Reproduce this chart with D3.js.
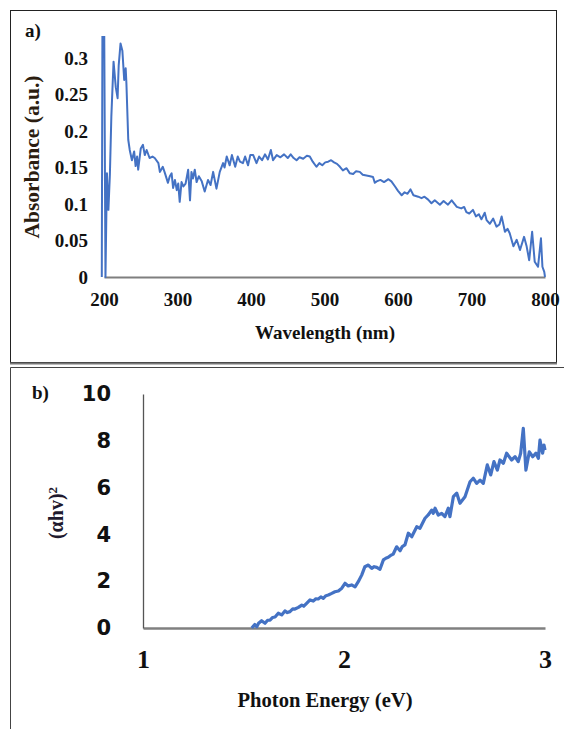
<!DOCTYPE html>
<html>
<head>
<meta charset="utf-8">
<script src="https://cdn.jsdelivr.net/npm/d3@7"></script>
<style>
body {
  margin: 0;
  background-color: white;
}
.serif { font-family: "Liberation Serif", "Times New Roman", serif; font-weight: bold; fill: #111; }
.sans { font-family: "DejaVu Sans", Verdana, sans-serif; font-weight: bold; fill: #111; }
</style>
</head>
<body>
<svg id="fig"></svg>
</body>
<script>
// panel a) absorbance spectrum
var wavelength = [197, 198, 200, 202, 204, 206, 208, 210, 213, 216, 218.5, 220, 222.5, 225, 227.5, 229.5, 230.5,
  233, 235, 238, 241, 243, 245, 246.5, 250, 253, 255.5, 258, 262, 266, 269, 274, 276, 280, 283, 287, 289.5,
  292, 294, 296.5, 299, 301, 303, 305.5, 308, 311, 314.5, 317, 319, 321, 323.5, 326, 329, 333, 337, 341.5,
  345, 348.5, 353, 357.5, 362, 364, 367, 371, 374, 378.5, 382, 385, 389, 392, 396, 399, 403, 407.5, 411,
  415, 419, 423, 427, 430, 435, 440, 445, 450, 454, 458, 462, 466, 471, 476, 480, 484, 489, 493, 497, 501,
  505, 509, 513, 517, 521, 525, 530, 534.5, 539, 543, 548, 552, 557, 562, 566, 568.5, 571, 576, 581, 587,
  591, 596, 600, 605, 609, 613, 617, 621, 627.5, 632, 636, 641, 645.5, 650, 657, 662, 668, 673, 680, 686,
  690, 693, 697, 702, 706, 710, 713.5, 718, 720.5, 725, 729.5, 734, 738, 741, 745.5, 749, 752, 757, 761.5,
  766, 771.5, 775, 778.5, 782.5, 786, 790.5, 794.5, 796.5, 799, 800];
var absorbance = [0, 0.40, 0.40, 0, 0.142, 0.092, 0.14, 0.22, 0.295, 0.26, 0.245, 0.29, 0.32, 0.31, 0.27, 0.286, 0.265,
  0.188, 0.174, 0.160, 0.172, 0.152, 0.165, 0.147, 0.176, 0.181, 0.167, 0.174, 0.163, 0.165, 0.163, 0.156, 0.144, 0.151, 0.142, 0.129, 0.138,
  0.142, 0.122, 0.133, 0.119, 0.128, 0.103, 0.130, 0.124, 0.128, 0.147, 0.105, 0.144, 0.135, 0.147, 0.130, 0.138, 0.131, 0.117, 0.133,
  0.126, 0.144, 0.121, 0.144, 0.156, 0.150, 0.165, 0.153, 0.167, 0.151, 0.165, 0.158, 0.156, 0.165, 0.153, 0.167, 0.167, 0.156, 0.165,
  0.160, 0.168, 0.161, 0.174, 0.160, 0.167, 0.164, 0.168, 0.163, 0.168, 0.163, 0.160, 0.164, 0.162, 0.166, 0.165, 0.158, 0.151, 0.156, 0.153, 0.157,
  0.158, 0.160, 0.157, 0.155, 0.151, 0.146, 0.149, 0.142, 0.141, 0.145, 0.144, 0.140, 0.139, 0.138, 0.137, 0.129, 0.131, 0.133, 0.130, 0.134,
  0.131, 0.124, 0.118, 0.112, 0.116, 0.114, 0.120, 0.112, 0.110, 0.108, 0.110, 0.106, 0.101, 0.105, 0.099, 0.104, 0.099, 0.105, 0.096, 0.094,
  0.096, 0.089, 0.087, 0.092, 0.083, 0.086, 0.079, 0.088, 0.078, 0.073, 0.080, 0.069, 0.072, 0.083, 0.062, 0.066, 0.060, 0.042, 0.051,
  0.037, 0.055, 0.042, 0.023, 0.062, 0.021, 0.014, 0.053, 0.014, 0.007, 0];
var wlTicks = [200, 300, 400, 500, 600, 700, 800];
var absTicks = [0, 0.05, 0.1, 0.15, 0.2, 0.25, 0.3];

// panel b) tauc plot
var energy = [1.541, 1.556, 1.566, 1.575, 1.590, 1.607, 1.62, 1.632, 1.645, 1.657, 1.673, 1.69, 1.706, 1.718, 1.731,
  1.745, 1.756, 1.773, 1.79, 1.80, 1.814, 1.831, 1.847, 1.86, 1.872, 1.885, 1.897, 1.91, 1.922, 1.939, 1.955, 1.972,
  1.989, 2.005, 2.021, 2.038, 2.055, 2.071, 2.088, 2.104, 2.121, 2.138, 2.15, 2.163, 2.179, 2.196, 2.208, 2.22, 2.232,
  2.245, 2.262, 2.279, 2.29, 2.303, 2.32, 2.337, 2.362, 2.378, 2.403, 2.419, 2.436, 2.444, 2.453, 2.469, 2.486, 2.502,
  2.519, 2.527, 2.544, 2.561, 2.577, 2.602, 2.627, 2.643, 2.66, 2.677, 2.693, 2.713, 2.73, 2.746, 2.763, 2.776, 2.793,
  2.809, 2.834, 2.851, 2.867, 2.879, 2.892, 2.905, 2.922, 2.939, 2.955, 2.967, 2.975, 2.988, 2.995, 3.0];
var ahv2 = [0, 0.15, 0.05, 0.2, 0.31, 0.2, 0.33, 0.34, 0.45, 0.47, 0.63, 0.56, 0.73, 0.66, 0.7,
  0.82, 0.81, 0.88, 0.98, 0.93, 1.05, 1.2, 1.15, 1.25, 1.24, 1.33, 1.27, 1.38, 1.41, 1.48, 1.55, 1.58,
  1.70, 1.91, 1.80, 1.84, 1.76, 1.98, 2.26, 2.62, 2.69, 2.55, 2.62, 2.59, 2.51, 2.91, 2.98, 3.02, 3.10,
  3.16, 3.47, 3.30, 3.48, 3.55, 4.05, 3.90, 4.33, 4.26, 4.69, 4.83, 5.04, 4.90, 5.12, 4.83, 4.90, 4.76,
  5.12, 4.76, 5.61, 5.76, 5.33, 5.61, 6.25, 6.40, 6.18, 6.32, 6.18, 6.97, 6.54, 7.11, 6.75, 7.18, 7.04,
  7.47, 7.18, 7.32, 7.11, 7.47, 8.53, 6.75, 7.53, 7.32, 7.47, 7.25, 8.03, 7.47, 7.82, 7.6];
var eTicks = [1, 2, 3];
var ahvTicks = [0, 2, 4, 6, 8, 10];

const width = 564;
const height = 729;
var svg = d3.select("#fig").attr("width", width).attr("height", height);
svg.append("rect").attr("width", width).attr("height", height).attr("fill", "white");

// frames
svg.append("rect").attr("x", 10.5).attr("y", 10.5).attr("width", 546).attr("height", 352)
   .attr("fill", "none").attr("stroke", "#222").attr("stroke-width", 1);
svg.append("line").attr("x1", 10).attr("x2", 557).attr("y1", 363.5).attr("y2", 363.5)
   .attr("stroke", "#777").attr("stroke-width", 2);
svg.append("path").attr("d", "M10.5,729V367.5H564").attr("fill", "none")
   .attr("stroke", "#444").attr("stroke-width", 1);

// ---- panel a
var xa = d3.scaleLinear().domain([200, 800]).range([104, 545]);
var ya = d3.scaleLinear().domain([0, 0.33]).range([277, 36.1]);

svg.append("clipPath").attr("id", "clipa").append("rect")
   .attr("x", 90).attr("y", 36).attr("width", 470).attr("height", 244);

var ga = svg.append("g");
var axa = ga.append("g").attr("transform", "translate(0,277)")
  .call(d3.axisBottom(xa).tickValues(wlTicks).tickSize(0).tickSizeOuter(0).tickPadding(16));
axa.select(".domain").attr("stroke", "#7f7f7f").attr("stroke-width", 2);
axa.selectAll("text").attr("class", "serif").style("font-size", "19px");

var aya = ga.append("g").attr("transform", "translate(88,0)")
  .call(d3.axisLeft(ya).tickValues(absTicks).tickFormat(d3.format("~g")).tickSize(0).tickPadding(0));
aya.select(".domain").remove();
aya.selectAll("text").attr("class", "serif").style("font-size", "19px");

var lineA = d3.line().x((d, i) => xa(wavelength[i])).y(d => ya(d));
ga.append("path").datum(absorbance)
  .attr("clip-path", "url(#clipa)")
  .attr("fill", "none").attr("stroke", "#4472C4").attr("stroke-width", 2)
  .attr("stroke-linejoin", "round")
  .attr("d", lineA);

ga.append("text").attr("class", "serif").attr("x", 25).attr("y", 37)
  .style("font-size", "19px").text("a)");
ga.append("text").attr("class", "serif").attr("x", 325).attr("y", 339)
  .attr("text-anchor", "middle").attr("textLength", 140).attr("lengthAdjust", "spacingAndGlyphs")
  .style("font-size", "19px").text("Wavelength (nm)");
ga.append("text").attr("class", "serif")
  .attr("transform", "translate(39,157) rotate(-90)")
  .attr("text-anchor", "middle").attr("textLength", 163).attr("lengthAdjust", "spacingAndGlyphs")
  .style("font-size", "20px").style("fill", "#2b1d10").text("Absorbance (a.u.)");

// ---- panel b
var xb = d3.scaleLinear().domain([1, 3]).range([143, 545]);
var yb = d3.scaleLinear().domain([0, 10]).range([628, 394]);

var gb = svg.append("g");
var axb = gb.append("g").attr("transform", "translate(0,628)")
  .call(d3.axisBottom(xb).tickValues(eTicks).tickFormat(d3.format("d")).tickSize(0).tickSizeOuter(0).tickPadding(22));
axb.select(".domain").attr("stroke", "#808080").attr("stroke-width", 2.5);
axb.selectAll("text").attr("class", "serif").style("font-size", "26px");

var ayb = gb.append("g").attr("transform", "translate(143,0)")
  .call(d3.axisLeft(yb).tickValues(ahvTicks).tickSize(0).tickSizeOuter(0).tickPadding(32));
ayb.select(".domain").attr("stroke", "#555").attr("stroke-width", 1.3);
ayb.selectAll("text").attr("class", "sans").style("font-size", "21px");

var lineB = d3.line().x((d, i) => xb(energy[i])).y(d => yb(d));
gb.append("path").datum(ahv2)
  .attr("fill", "none").attr("stroke", "#4472C4").attr("stroke-width", 3.2)
  .attr("stroke-linejoin", "round")
  .attr("d", lineB);

gb.append("text").attr("class", "serif").attr("x", 32).attr("y", 399)
  .style("font-size", "19px").text("b)");
gb.append("text").attr("class", "serif").attr("x", 325).attr("y", 707)
  .attr("text-anchor", "middle").attr("textLength", 175).attr("lengthAdjust", "spacingAndGlyphs")
  .style("font-size", "21px").text("Photon Energy (eV)");
var lab = gb.append("text").attr("class", "serif")
  .attr("transform", "translate(63,513) rotate(-90)")
  .attr("text-anchor", "middle").style("font-size", "20px").style("fill", "#1f1a2e");
lab.append("tspan").text("(\u03b1hv)");
lab.append("tspan").attr("dy", "-0.45em").style("font-size", "13px").text("2");
</script>
</html>
